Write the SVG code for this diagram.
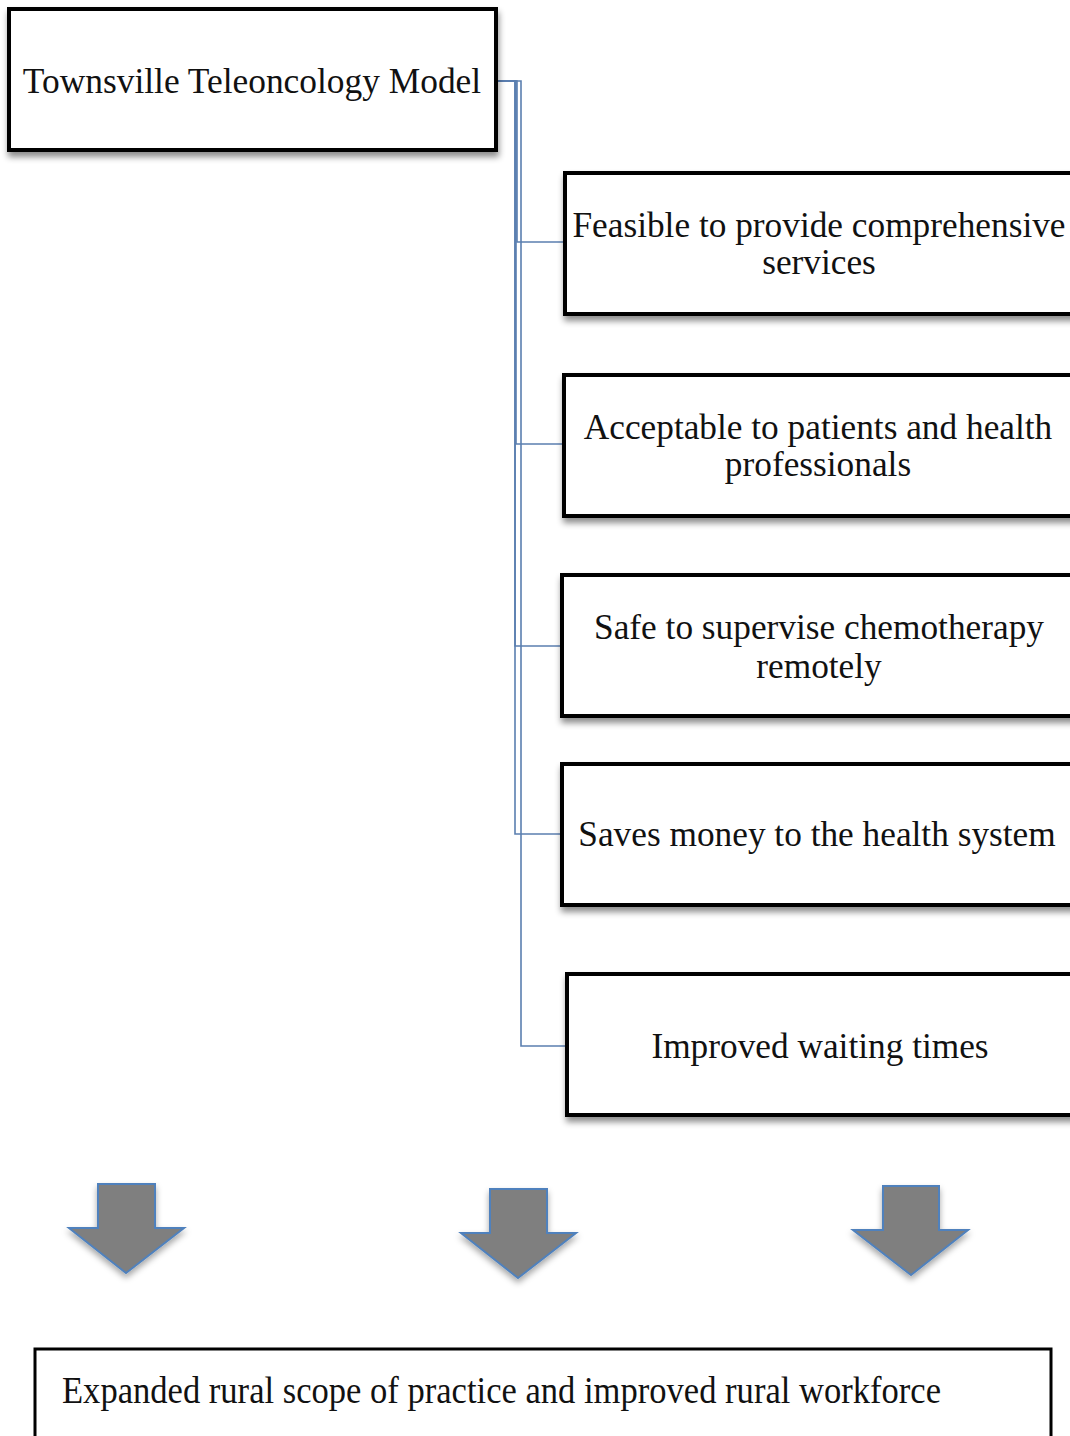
<svg xmlns="http://www.w3.org/2000/svg" width="1070" height="1436" viewBox="0 0 1070 1436">
  <defs>
    <filter id="shadow" x="-5%" y="-10%" width="115%" height="130%">
      <feDropShadow dx="1" dy="5" stdDeviation="3" flood-color="#000" flood-opacity="0.45"/>
    </filter>
    <filter id="ashadow" x="-20%" y="-20%" width="140%" height="150%">
      <feDropShadow dx="0" dy="4" stdDeviation="3" flood-color="#000" flood-opacity="0.35"/>
    </filter>
  </defs>
  <style>
    .box { fill: #fff; stroke: #000; stroke-width: 4; }
    .label { font-family: "Liberation Serif", "Times New Roman", serif; font-size: 35.3px; fill: #111; text-anchor: middle; }
    .conn { fill: none; stroke: #5b7fb0; stroke-width: 1.6; }
    .arrow { fill: #7f7f7f; stroke: #4f81bd; stroke-width: 2; stroke-linejoin: miter; }
  </style>
  <rect width="1070" height="1436" fill="#fff"/>

  <!-- elbow connectors from the model box to each outcome -->
  <g id="connectors">
    <path class="conn" d="M496 81 H517 V242 H564"/>
    <path class="conn" d="M496 81 H516 V444 H563"/>
    <path class="conn" d="M496 81 H515 V646 H561"/>
    <path class="conn" d="M496 81 H515 V834 H561"/>
    <path class="conn" d="M496 81 H521 V1046 H566"/>
  </g>

  <g id="model">
    <rect class="box" x="9" y="9" width="487" height="141" filter="url(#shadow)"/>
    <text class="label" x="252" y="93" style="font-size:35.4px">Townsville Teleoncology Model</text>
  </g>

  <g id="feasible">
    <rect class="box" x="565" y="173" width="520" height="141" filter="url(#shadow)"/>
    <text class="label" x="819" y="237">Feasible to provide comprehensive</text>
    <text class="label" x="819" y="274">services</text>
  </g>

  <g id="acceptable">
    <rect class="box" x="564" y="375" width="520" height="141" filter="url(#shadow)"/>
    <text class="label" x="818" y="439">Acceptable to patients and health</text>
    <text class="label" x="818" y="476">professionals</text>
  </g>

  <g id="safe">
    <rect class="box" x="562" y="575" width="520" height="141" filter="url(#shadow)"/>
    <text class="label" x="819" y="639">Safe to supervise chemotherapy</text>
    <text class="label" x="819" y="678">remotely</text>
  </g>

  <g id="saves">
    <rect class="box" x="562" y="764" width="520" height="141" filter="url(#shadow)"/>
    <text class="label" x="817" y="846">Saves money to the health system</text>
  </g>

  <g id="waiting">
    <rect class="box" x="567" y="974" width="520" height="141" filter="url(#shadow)"/>
    <text class="label" x="820" y="1058">Improved waiting times</text>
  </g>

  <g id="arrow-left">
    <path class="arrow" filter="url(#ashadow)" d="M98 1184 H155 V1228 H184 L126 1273 L69 1228 H98 Z"/>
  </g>
  <g id="arrow-middle">
    <path class="arrow" filter="url(#ashadow)" d="M490 1189 H547 V1233 H576 L518 1278 L461 1233 H490 Z"/>
  </g>
  <g id="arrow-right">
    <path class="arrow" filter="url(#ashadow)" d="M883 1186 H939 V1230 H968 L911 1275 L853 1230 H883 Z"/>
  </g>

  <g id="workforce">
    <rect x="35" y="1349" width="1016" height="120" fill="#fff" stroke="#000" stroke-width="3"/>
    <text x="62" y="1403" font-family="Liberation Serif, 'Times New Roman', serif" font-size="37" fill="#111" textLength="879" lengthAdjust="spacingAndGlyphs">Expanded rural scope of practice and improved rural workforce</text>
  </g>
</svg>
